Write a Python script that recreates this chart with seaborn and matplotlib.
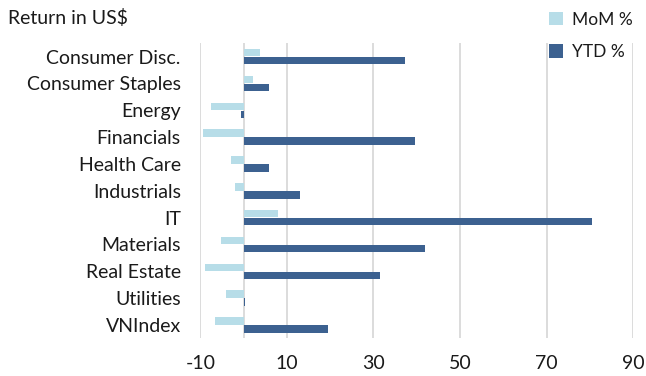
import numpy as np
import pandas as pd
import matplotlib
matplotlib.use("Agg")
import matplotlib.pyplot as plt
import seaborn as sns

sectors = ["Consumer Disc.", "Consumer Staples", "Energy", "Financials", "Health Care",
           "Industrials", "IT", "Materials", "Real Estate", "Utilities", "VNIndex"]
mom = [3.7, 2.1, -7.6, -9.3, -2.9, -2.0, 8.0, -5.2, -8.8, -4.0, -6.7]
ytd = [37.4, 5.9, -0.6, 39.7, 5.9, 13.0, 80.4, 42.0, 31.5, 0.4, 19.5]

sns.set_style("white")
plt.rcParams['font.family'] = ['Lato', 'DejaVu Sans']
plt.rcParams['axes.unicode_minus'] = False
plt.rcParams['text.color'] = '#1a1a1a'
plt.rcParams['xtick.color'] = '#1a1a1a'
plt.rcParams['ytick.color'] = '#1a1a1a'

df = pd.DataFrame({"Sector": sectors * 2,
                   "Return": mom + ytd,
                   "Series": ["MoM %"] * len(sectors) + ["YTD %"] * len(sectors)})

fig = plt.figure(figsize=(6.46, 3.76), dpi=100)
ax = fig.add_axes([0.31, 0.10, 0.67, 0.785])

sns.barplot(data=df, y="Sector", x="Return", hue="Series", orient="h",
            palette={"MoM %": "#b7dde8", "YTD %": "#3c6190"},
            width=0.6, gap=0.06, ax=ax, zorder=3, saturation=1, linewidth=0)

# 网格线
ax.set_xlim(-10, 90)
ax.set_xticks(np.arange(-10, 91, 20))
ax.grid(axis="x", color="#d9d9d9", linewidth=1.3, zorder=0)
ax.axvline(0, color="#d9d9d9", linewidth=1.3, zorder=1)
for s in ax.spines.values():
    s.set_visible(False)
ax.tick_params(axis="both", length=0, labelsize=14)
ax.tick_params(axis="y", pad=14)
ax.tick_params(axis="x", pad=12)
ax.set_xlabel("")
ax.set_ylabel("")

ax.legend(loc="upper left", bbox_to_anchor=(0.77, 1.16), frameon=False,
          fontsize=12.5, handlelength=0.8, handleheight=0.8, handletextpad=0.5,
          labelspacing=0.95)
fig.text(0.012, 0.975, "Return in US$", fontsize=14, va="top", ha="left")

fig.savefig("out.png", dpi=100)
